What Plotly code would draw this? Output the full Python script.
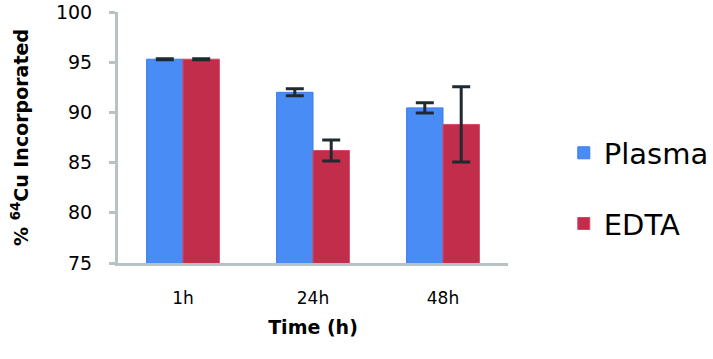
import plotly.graph_objects as go

times = ['1h', '24h', '48h']
plasma = [95.3, 92.0, 90.45]
plasma_err = [0.05, 0.35, 0.5]
edta = [95.3, 86.2, 88.8]
edta_err = [0.05, 1.05, 3.75]

font = 'DejaVu Sans'

fig = go.Figure()
fig.add_trace(go.Bar(
    x=times, y=plasma, name='Plasma', legendgroup='p',
    marker=dict(color='#4a8cf5', line=dict(color='#3a7de8', width=1)),
    error_y=dict(type='data', array=plasma_err, color='#1e2a30', thickness=3, width=9),
))
fig.add_trace(go.Bar(
    x=times, y=edta, name='EDTA', legendgroup='e',
    marker=dict(color='#c12d4b', line=dict(color='#d24a63', width=1)),
    error_y=dict(type='data', array=edta_err, color='#1e2a30', thickness=3, width=9),
))

fig.update_layout(
    width=713, height=359,
    margin=dict(l=118, r=205, t=12, b=96, autoexpand=False),
    plot_bgcolor='white', paper_bgcolor='white',
    barmode='group', bargap=0.44, bargroupgap=0,
    font=dict(family=font, color='black'),
    showlegend=True,
    legend=dict(x=1.143, y=0.297, xanchor='left', yanchor='middle',
                font=dict(size=29, family=font), tracegroupgap=30,
                itemwidth=30),
    xaxis=dict(
        showline=True, linecolor='#b7c3c3', linewidth=3, automargin=False,
        ticks='', tickfont=dict(size=17), ticklabelstandoff=18,
        title=dict(text='Time (h)', font=dict(size=19, weight='bold'), standoff=14),
    ),
    yaxis=dict(
        range=[75, 100], dtick=5, automargin=False,
        showline=True, linecolor='#b7c3c3', linewidth=3,
        ticks='outside', ticklen=6, tickwidth=3, tickcolor='#b7c3c3',
        showgrid=False, zeroline=False, ticklabeloverflow='allow',
        tickfont=dict(size=19), ticklabelstandoff=13,
        title=dict(text='% <sup>64</sup>Cu Incorporated', font=dict(size=19, weight='bold'), standoff=23),
    ),
)

# drop the default 8px body margin so the figure sits at the window corner
fig.write_html('out.html', config={'displayModeBar': False},
               post_script="document.body.style.margin='0';")
